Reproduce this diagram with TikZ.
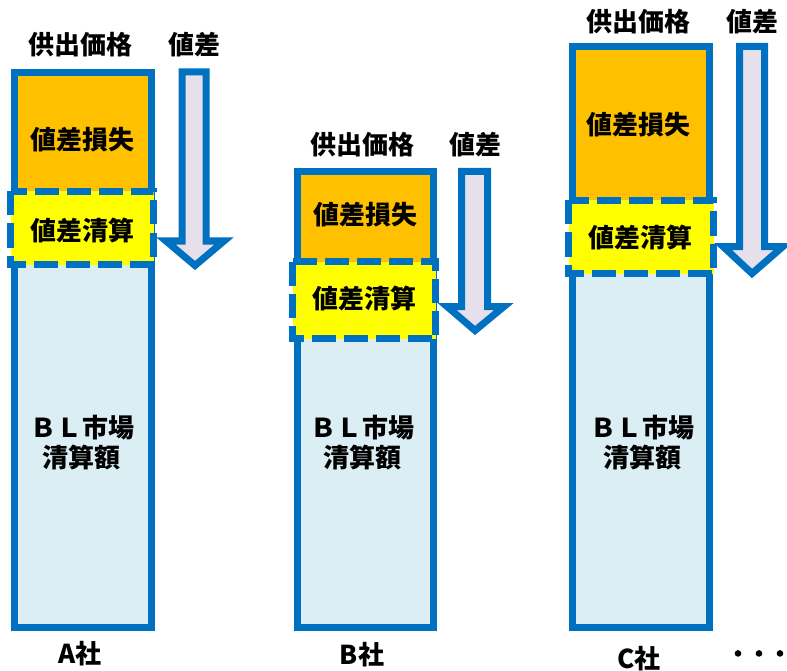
\documentclass[tikz,border=0pt]{standalone}
\usepackage{fontspec}
\newfontfamily\jp{Noto Sans CJK JP}
\newfontfamily\jpdots{Noto Sans CJK JP}[BoldFeatures={FakeBold=4}]
\definecolor{bblue}{HTML}{0070C0}
\definecolor{orng}{HTML}{FFC000}
\definecolor{ylw}{HTML}{FFFF00}
\definecolor{lblue}{HTML}{DAEEF3}
\definecolor{lav}{HTML}{E6E0EC}
\tikzset{
  lbl/.style={font=\jp\bfseries\fontsize{26}{30}\selectfont, inner sep=0pt, align=center},
  solidbox/.style={draw=bblue, line width=7pt, line join=miter},
  dashbox/.style={draw=bblue, fill=ylw, line width=7pt, dash pattern=on 24pt off 8pt},
  downarrow/.style={draw=bblue, fill=lav, line width=7pt, line join=miter},
}
\begin{document}
\begin{tikzpicture}[x=1pt,y=-1pt]
\useasboundingbox (0,0) rectangle (787,671);
% ---------- Column A ----------
\fill[lblue] (14.5,72.5) rectangle (151,627);
\fill[orng] (14.5,72.5) rectangle (151,191.5);
\draw[solidbox] (14.5,72.5) rectangle (151,627);
\draw[dashbox] (10.5,191.5) rectangle (153.5,264.5);
\draw[downarrow] (182,72)--(206,72)--(206,241)--(224,241)--(195,265.5)--(166,241)--(182,241)--cycle;
\node[lbl] (a-price) at (80,45) {供出価格};
\node[lbl] (a-diff) at (194,45) {値差};
\node[lbl] (a-loss) at (82,140) {値差損失};
\node[lbl] (a-settle) at (82,230) {値差清算};
\node[lbl] (a-bl) at (82,443) {ＢＬ市場\\清算額};
\node[lbl] (a-name) at (80,654) {A社};
% ---------- Column B ----------
\fill[lblue] (297,171.5) rectangle (433,627);
\fill[orng] (297,171.5) rectangle (433,261.5);
\draw[solidbox] (297,171.5) rectangle (433,627);
\draw[dashbox] (292.5,261.5) rectangle (435.5,338.5);
\draw[downarrow] (461.5,171.5)--(487.5,171.5)--(487.5,306.5)--(504,306.5)--(475,330.5)--(447,306.5)--(461.5,306.5)--cycle;
\node[lbl] (b-price) at (362,145) {供出価格};
\node[lbl] (b-diff) at (475,145) {値差};
\node[lbl] (b-loss) at (365,215) {値差損失};
\node[lbl] (b-settle) at (364,298) {値差清算};
\node[lbl] (b-bl) at (362,443) {ＢＬ市場\\清算額};
\node[lbl] (b-name) at (362,655) {B社};
% ---------- Column C ----------
\fill[lblue] (572.5,46.5) rectangle (709.5,627);
\fill[orng] (572.5,46.5) rectangle (709.5,200.5);
\draw[solidbox] (572.5,46.5) rectangle (709.5,627);
\draw[dashbox] (568.5,200.5) rectangle (713.5,273.5);
\draw[downarrow] (739.5,46.5)--(764.5,46.5)--(764.5,246.5)--(783,246.5)--(752,273.5)--(723,246.5)--(739.5,246.5)--cycle;
\node[lbl] (c-price) at (638,22) {供出価格};
\node[lbl] (c-diff) at (752,22) {値差};
\node[lbl] (c-loss) at (638,125) {値差損失};
\node[lbl] (c-settle) at (640,237) {値差清算};
\node[lbl] (c-bl) at (642,443) {ＢＬ市場\\清算額};
\node[lbl] (c-name) at (639,659) {C社};
\node[inner sep=0pt] (dots) at (759,657) {\jpdots\bfseries\fontsize{26}{26}\selectfont ･\kern8pt･\kern8pt･};
\end{tikzpicture}
\end{document}
